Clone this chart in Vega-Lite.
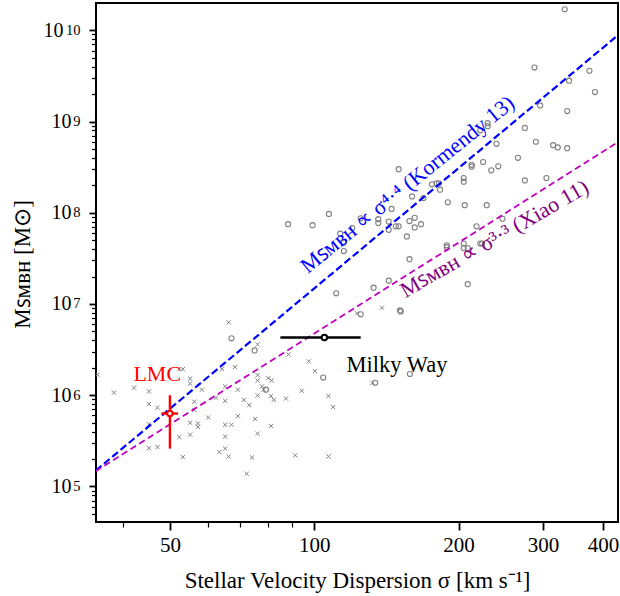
{
  "$schema": "https://vega.github.io/schema/vega-lite/v6.json",
  "width": 522,
  "height": 519,
  "autosize": {"type": "none"},
  "padding": {"left": 96, "top": 3, "right": 2, "bottom": 74},
  "background": "white",
  "config": {
    "font": "Liberation Serif",
    "view": {"stroke": "black", "strokeWidth": 2},
    "axis": {"grid": false, "domain": false, "tickColor": "black", "labelColor": "black", "titleColor": "black", "labelFont": "Liberation Serif", "titleFont": "Liberation Serif", "titleFontWeight": "normal", "labelFlush": false, "labelOverlap": false}
  },
  "datasets": {
    "circles": [
      {"sigma": 333, "mass": 1.70e10}, {"sigma": 288, "mass": 3.9e9}, {"sigma": 375, "mass": 3.6e9}, {"sigma": 340, "mass": 2.8e9},
      {"sigma": 385, "mass": 2.1e9}, {"sigma": 296, "mass": 1.5e9}, {"sigma": 337, "mass": 1.3e9}, {"sigma": 230, "mass": 9.6e8},
      {"sigma": 230, "mass": 8.9e8}, {"sigma": 222, "mass": 8.0e8}, {"sigma": 275, "mass": 8.5e8}, {"sigma": 290, "mass": 6.0e8},
      {"sigma": 315, "mass": 5.5e8}, {"sigma": 322, "mass": 5.2e8}, {"sigma": 337, "mass": 5.1e8}, {"sigma": 240, "mass": 5.7e8},
      {"sigma": 266, "mass": 4.0e8}, {"sigma": 213, "mass": 3.35e8}, {"sigma": 213, "mass": 3.2e8}, {"sigma": 225, "mass": 3.6e8},
      {"sigma": 242, "mass": 3.23e8}, {"sigma": 234, "mass": 2.92e8}, {"sigma": 150, "mass": 3.0e8}, {"sigma": 275, "mass": 2.26e8},
      {"sigma": 305, "mass": 2.4e8}, {"sigma": 205, "mass": 2.4e8}, {"sigma": 205, "mass": 2.19e8}, {"sigma": 176, "mass": 2.05e8},
      {"sigma": 180, "mass": 2.1e8}, {"sigma": 182, "mass": 2.1e8}, {"sigma": 183, "mass": 1.79e8}, {"sigma": 160, "mass": 1.51e8},
      {"sigma": 169, "mass": 1.45e8}, {"sigma": 190, "mass": 1.30e8}, {"sigma": 206, "mass": 1.21e8}, {"sigma": 229, "mass": 1.21e8},
      {"sigma": 145, "mass": 1.10e8}, {"sigma": 125, "mass": 8.7e7}, {"sigma": 120, "mass": 6.8e7}, {"sigma": 136, "mass": 8.5e7},
      {"sigma": 136, "mass": 7.7e7}, {"sigma": 143, "mass": 8.0e7}, {"sigma": 143, "mass": 6.5e7}, {"sigma": 148, "mass": 7.1e7},
      {"sigma": 150, "mass": 7.1e7}, {"sigma": 158, "mass": 8.1e7}, {"sigma": 162, "mass": 8.8e7}, {"sigma": 162, "mass": 6.9e7},
      {"sigma": 167, "mass": 7.5e7}, {"sigma": 156, "mass": 5.5e7}, {"sigma": 158, "mass": 3.1e7}, {"sigma": 218, "mass": 7.1e7},
      {"sigma": 247, "mass": 8.6e7}, {"sigma": 189, "mass": 4.4e7}, {"sigma": 189, "mass": 4.2e7}, {"sigma": 205, "mass": 4.6e7},
      {"sigma": 205, "mass": 4.1e7}, {"sigma": 209, "mass": 4.1e7}, {"sigma": 222, "mass": 4.6e7}, {"sigma": 224, "mass": 4.6e7},
      {"sigma": 209, "mass": 1.65e7}, {"sigma": 143, "mass": 1.8e7}, {"sigma": 133, "mass": 1.51e7}, {"sigma": 151, "mass": 8.5e6},
      {"sigma": 151.5, "mass": 8.3e6}, {"sigma": 125, "mass": 7.7e6}, {"sigma": 88.2, "mass": 7.5e7}, {"sigma": 99.2, "mass": 7.3e7},
      {"sigma": 107.3, "mass": 9.7e7}, {"sigma": 113.3, "mass": 5.9e7}, {"sigma": 115.3, "mass": 4.7e7}, {"sigma": 115.3, "mass": 3.8e7},
      {"sigma": 111.1, "mass": 1.31e7}, {"sigma": 67.2, "mass": 4.2e6}, {"sigma": 75.1, "mass": 3.1e6}, {"sigma": 104.4, "mass": 1.56e6},
      {"sigma": 79.3, "mass": 1.15e6}, {"sigma": 158.3, "mass": 1.71e6}, {"sigma": 134, "mass": 1.37e6}
    ],
    "crosses": [
      {"sigma": 35.3, "mass": 1.68e6}, {"sigma": 38.2, "mass": 1.07e6}, {"sigma": 42.1, "mass": 1.21e6}, {"sigma": 45.2, "mass": 1.10e6},
      {"sigma": 45.2, "mass": 8.0e5}, {"sigma": 47.1, "mass": 7.3e5}, {"sigma": 45.2, "mass": 4.8e5}, {"sigma": 45.2, "mass": 2.63e5},
      {"sigma": 47.1, "mass": 2.7e5}, {"sigma": 52.3, "mass": 1.93e6}, {"sigma": 53.2, "mass": 1.93e6}, {"sigma": 52.3, "mass": 3.47e5},
      {"sigma": 53.2, "mass": 2.1e5}, {"sigma": 55.1, "mass": 1.52e6}, {"sigma": 55.1, "mass": 1.34e6}, {"sigma": 55.1, "mass": 5.0e5},
      {"sigma": 55.1, "mass": 3.7e5}, {"sigma": 56.2, "mass": 8.5e5}, {"sigma": 56.2, "mass": 6.9e5}, {"sigma": 57.2, "mass": 4.9e5},
      {"sigma": 57.2, "mass": 4.5e5}, {"sigma": 58.3, "mass": 1.15e6}, {"sigma": 60.1, "mass": 5.7e5}, {"sigma": 62.4, "mass": 9.4e5},
      {"sigma": 64.2, "mass": 1.93e6}, {"sigma": 65.2, "mass": 1.25e6}, {"sigma": 65.2, "mass": 8.7e5}, {"sigma": 65.2, "mass": 4.75e5},
      {"sigma": 65.2, "mass": 3.53e5}, {"sigma": 65.2, "mass": 2.6e5}, {"sigma": 63.4, "mass": 2.38e5}, {"sigma": 66.3, "mass": 2.13e5},
      {"sigma": 66.3, "mass": 6.3e6}, {"sigma": 67.2, "mass": 4.75e5}, {"sigma": 68.3, "mass": 2.03e6}, {"sigma": 69.3, "mass": 1.15e6},
      {"sigma": 69.3, "mass": 5.9e5}, {"sigma": 71.3, "mass": 8.9e5}, {"sigma": 73.2, "mass": 7.8e5}, {"sigma": 74.2, "mass": 2.08e5},
      {"sigma": 72.3, "mass": 1.38e5}, {"sigma": 75.3, "mass": 5.5e5}, {"sigma": 76.2, "mass": 3.6e6}, {"sigma": 76.2, "mass": 1.66e6},
      {"sigma": 76.2, "mass": 1.45e6}, {"sigma": 76.2, "mass": 9.95e5}, {"sigma": 76.2, "mass": 3.8e5}, {"sigma": 77.8, "mass": 1.25e6},
      {"sigma": 78.4, "mass": 1.15e6}, {"sigma": 80.2, "mass": 1.54e6}, {"sigma": 81.5, "mass": 1.45e6}, {"sigma": 81.2, "mass": 9.8e5},
      {"sigma": 82.3, "mass": 8.9e5}, {"sigma": 81.3, "mass": 4.6e5}, {"sigma": 87.3, "mass": 9.2e5}, {"sigma": 88.4, "mass": 2.8e6},
      {"sigma": 91.3, "mass": 2.19e5}, {"sigma": 94.2, "mass": 1.12e6}, {"sigma": 97.4, "mass": 2.35e6}, {"sigma": 100.3, "mass": 1.84e6},
      {"sigma": 107.1, "mass": 9.8e5}, {"sigma": 109.5, "mass": 7.4e5}, {"sigma": 107.1, "mass": 2.13e5}, {"sigma": 122.9, "mass": 7.9e6},
      {"sigma": 132.3, "mass": 1.37e6}, {"sigma": 138.4, "mass": 9.1e6}
    ],
    "fits": [
      {"fit": "Kormendy", "sigma": 35, "mass": 1.49e5}, {"fit": "Kormendy", "sigma": 431, "mass": 8.92e9},
      {"fit": "Xiao", "sigma": 35, "mass": 1.47e5}, {"fit": "Xiao", "sigma": 431, "mass": 5.98e8}
    ],
    "objects": [
      {"name": "LMC", "sigma": 50, "sig_lo": 48, "sig_hi": 52, "mass": 6.3e5, "m_lo": 2.6e5, "m_hi": 1.0e6},
      {"name": "Milky Way", "sigma": 105, "sig_lo": 85, "sig_hi": 125, "mass": 4.3e6, "m_lo": 4.3e6, "m_hi": 4.3e6}
    ],
    "labels": [
      {"id": "lmc", "label": "LMC", "sigma": 47.05, "mass": 1.45e6},
      {"id": "mw", "label": "Milky Way", "sigma": 116.8, "mass": 1.79e6},
      {"id": "kor", "label": "Mꜱᴍʙʜ ∝ σ⁴·⁴ (Kormendy 13)", "sigma": 156.4, "mass": 2.04e8},
      {"id": "xiao", "label": "Mꜱᴍʙʜ ∝ σ³·³  (Xiao 11)", "sigma": 237.6, "mass": 5.2e7}
    ]
  },
  "layer": [
    {
      "data": {"name": "circles"},
      "mark": {"type": "point", "shape": "circle", "filled": false, "stroke": "#808080", "strokeWidth": 1.1, "size": 26, "opacity": 1, "clip": true},
      "encoding": {
        "x": {"field": "sigma", "type": "quantitative", "scale": {"type": "log", "domain": [35.06, 430.1], "nice": false},
          "axis": {"orient": "bottom", "values": [50, 100, 200, 300, 400], "labelExpr": "datum.value", "tickSize": 8, "tickWidth": 1.8, "labelFontSize": 21, "labelPadding": 4,
            "title": "Stellar Velocity Dispersion σ [km s⁻¹]", "titleFontSize": 23, "titleX": 261, "titleY": 58, "titleBaseline": "middle", "titleAlign": "center"}},
        "y": {"field": "mass", "type": "quantitative", "scale": {"type": "log", "domain": [40800, 1.99e10], "nice": false},
          "axis": {"orient": "left", "values": [1e5, 1e6, 1e7, 1e8, 1e9, 1e10],
            "labelExpr": "'10'",
            "tickSize": 7, "tickWidth": 1.8, "labelFontSize": 20, "labelDy": 2,
            "labelPadding": {"condition": {"test": "datum.value > 5e9", "value": 26}, "value": 18},
            "title": "Mꜱᴍʙʜ [M⊙]", "titleFontSize": 23, "titleX": -74, "titleY": 261, "titleAngle": -90, "titleAlign": "center", "titleBaseline": "middle"}}
      }
    },
    {
      "data": {"name": "crosses"},
      "mark": {"type": "point", "shape": "M-1,-1L1,1M-1,1L1,-1", "filled": false, "stroke": "#808080", "strokeWidth": 1, "size": 18, "opacity": 1, "clip": true},
      "encoding": {
        "x": {"field": "sigma", "type": "quantitative", "scale": {"type": "log", "domain": [35.06, 430.1], "nice": false},
          "axis": {"orient": "bottom", "values": [40, 60, 70, 80, 90], "labels": false, "tickSize": 5, "tickWidth": 1.2, "title": null}},
        "y": {"field": "mass", "type": "quantitative", "scale": {"type": "log", "domain": [40800, 1.99e10], "nice": false},
          "axis": {"orient": "left", "values": [5e4, 6e4, 7e4, 8e4, 9e4, 2e5, 3e5, 4e5, 5e5, 6e5, 7e5, 8e5, 9e5, 2e6, 3e6, 4e6, 5e6, 6e6, 7e6, 8e6, 9e6, 2e7, 3e7, 4e7, 5e7, 6e7, 7e7, 8e7, 9e7, 2e8, 3e8, 4e8, 5e8, 6e8, 7e8, 8e8, 9e8, 2e9, 3e9, 4e9, 5e9, 6e9, 7e9, 8e9, 9e9],
            "labels": false, "tickSize": 4.5, "tickWidth": 1.2, "title": null}}
      }
    },
    {
      "data": {"name": "fits"},
      "transform": [{"filter": {"field": "fit", "equal": "Kormendy"}}],
      "mark": {"type": "line", "color": "#0000ff", "strokeWidth": 2.2, "strokeDash": [7.4, 3.4], "clip": true},
      "encoding": {
        "x": {"field": "sigma", "type": "quantitative", "scale": {"type": "log", "domain": [35.06, 430.1], "nice": false}, "axis": null},
        "y": {"field": "mass", "type": "quantitative", "scale": {"type": "log", "domain": [40800, 1.99e10], "nice": false},
          "axis": {"orient": "left", "values": [1e5, 1e6, 1e7, 1e8, 1e9, 1e10],
            "labelExpr": "datum.value < 5e5 ? '5' : datum.value < 5e6 ? '6' : datum.value < 5e7 ? '7' : datum.value < 5e8 ? '8' : datum.value < 5e9 ? '9' : '10'",
            "tickSize": 7, "tickOpacity": 0, "labelFontSize": 14.5, "labelPadding": 9, "labelDy": -8, "title": null}}
      }
    },
    {
      "data": {"name": "fits"},
      "transform": [{"filter": {"field": "fit", "equal": "Xiao"}}],
      "mark": {"type": "line", "color": "#bf00bf", "strokeWidth": 1.8, "strokeDash": [6.5, 3.8], "clip": true},
      "encoding": {
        "x": {"field": "sigma", "type": "quantitative", "scale": {"type": "log", "domain": [35.06, 430.1], "nice": false}, "axis": null},
        "y": {"field": "mass", "type": "quantitative", "scale": {"type": "log", "domain": [40800, 1.99e10], "nice": false}, "axis": null}
      }
    },
    {
      "data": {"name": "labels"},
      "transform": [{"filter": {"field": "id", "equal": "kor"}}],
      "mark": {"type": "text", "color": "#0000ff", "fontSize": 22, "angle": -39, "align": "center", "baseline": "middle", "font": "Liberation Serif"},
      "encoding": {
        "x": {"field": "sigma", "type": "quantitative", "scale": {"type": "log", "domain": [35.06, 430.1], "nice": false}, "axis": null},
        "y": {"field": "mass", "type": "quantitative", "scale": {"type": "log", "domain": [40800, 1.99e10], "nice": false}, "axis": null},
        "text": {"field": "label"}
      }
    },
    {
      "data": {"name": "labels"},
      "transform": [{"filter": {"field": "id", "equal": "xiao"}}],
      "mark": {"type": "text", "color": "#800080", "fontSize": 22, "angle": -30, "align": "center", "baseline": "middle", "font": "Liberation Serif"},
      "encoding": {
        "x": {"field": "sigma", "type": "quantitative", "scale": {"type": "log", "domain": [35.06, 430.1], "nice": false}, "axis": null},
        "y": {"field": "mass", "type": "quantitative", "scale": {"type": "log", "domain": [40800, 1.99e10], "nice": false}, "axis": null},
        "text": {"field": "label"}
      }
    },
    {
      "data": {"name": "labels"},
      "transform": [{"filter": {"field": "id", "equal": "lmc"}}],
      "mark": {"type": "text", "color": "#ff0000", "fontSize": 22, "align": "center", "baseline": "alphabetic", "font": "Liberation Serif"},
      "encoding": {
        "x": {"field": "sigma", "type": "quantitative", "scale": {"type": "log", "domain": [35.06, 430.1], "nice": false}, "axis": null},
        "y": {"field": "mass", "type": "quantitative", "scale": {"type": "log", "domain": [40800, 1.99e10], "nice": false}, "axis": null},
        "text": {"field": "label"}
      }
    },
    {
      "data": {"name": "labels"},
      "transform": [{"filter": {"field": "id", "equal": "mw"}}],
      "mark": {"type": "text", "color": "#000000", "fontSize": 22.5, "align": "left", "baseline": "alphabetic", "font": "Liberation Serif"},
      "encoding": {
        "x": {"field": "sigma", "type": "quantitative", "scale": {"type": "log", "domain": [35.06, 430.1], "nice": false}, "axis": null},
        "y": {"field": "mass", "type": "quantitative", "scale": {"type": "log", "domain": [40800, 1.99e10], "nice": false}, "axis": null},
        "text": {"field": "label"}
      }
    },
    {
      "data": {"name": "objects"},
      "mark": {"type": "rule", "strokeWidth": 2.4},
      "encoding": {
        "x": {"field": "sig_lo", "type": "quantitative", "scale": {"type": "log", "domain": [35.06, 430.1], "nice": false}, "axis": null},
        "x2": {"field": "sig_hi"},
        "y": {"field": "mass", "type": "quantitative", "scale": {"type": "log", "domain": [40800, 1.99e10], "nice": false}, "axis": null},
        "color": {"field": "name", "type": "nominal", "scale": {"domain": ["LMC", "Milky Way"], "range": ["#ff0000", "#000000"]}, "legend": null}
      }
    },
    {
      "data": {"name": "objects"},
      "transform": [{"filter": {"field": "name", "equal": "LMC"}}],
      "mark": {"type": "rule", "strokeWidth": 2.4},
      "encoding": {
        "x": {"field": "sigma", "type": "quantitative", "scale": {"type": "log", "domain": [35.06, 430.1], "nice": false}, "axis": null},
        "y": {"field": "m_lo", "type": "quantitative", "scale": {"type": "log", "domain": [40800, 1.99e10], "nice": false}, "axis": null},
        "y2": {"field": "m_hi"},
        "color": {"field": "name", "type": "nominal", "scale": {"domain": ["LMC", "Milky Way"], "range": ["#ff0000", "#000000"]}, "legend": null}
      }
    },
    {
      "data": {"name": "objects"},
      "mark": {"type": "point", "shape": "circle", "fill": "white", "fillOpacity": 1, "strokeWidth": 2, "size": 30, "opacity": 1},
      "encoding": {
        "x": {"field": "sigma", "type": "quantitative", "scale": {"type": "log", "domain": [35.06, 430.1], "nice": false}, "axis": null},
        "y": {"field": "mass", "type": "quantitative", "scale": {"type": "log", "domain": [40800, 1.99e10], "nice": false}, "axis": null},
        "stroke": {"field": "name", "type": "nominal", "scale": {"domain": ["LMC", "Milky Way"], "range": ["#ff0000", "#000000"]}, "legend": null}
      }
    }
  ],
  "resolve": {"axis": {"x": "independent", "y": "independent"}}
}
